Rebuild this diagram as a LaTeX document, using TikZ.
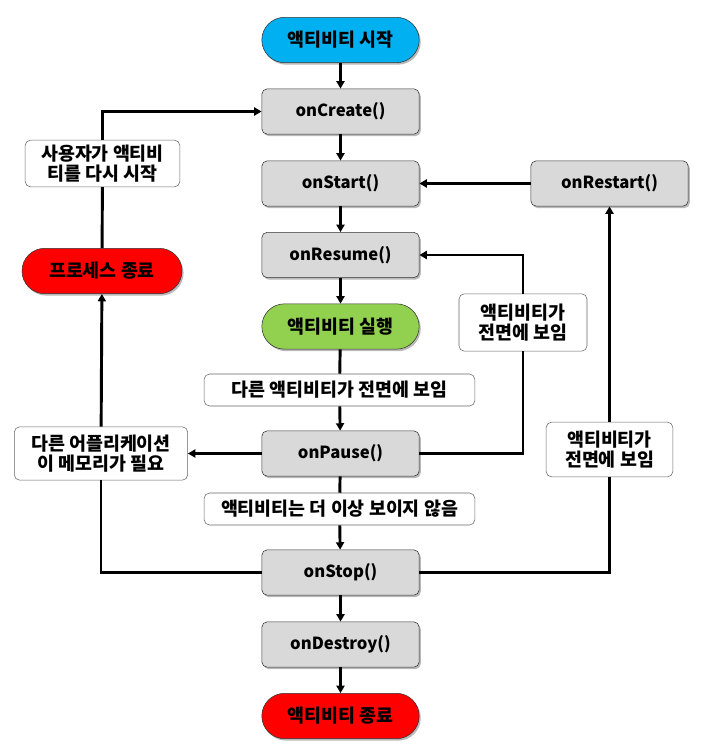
\documentclass[tikz,border=0pt]{standalone}
\usepackage{fontspec}
\setmainfont{Noto Sans CJK KR}
\usepackage{tikz}
\usetikzlibrary{arrows.meta,shadows}
\definecolor{startblue}{HTML}{00B0F0}
\definecolor{rungreen}{HTML}{92D050}
\definecolor{boxgray}{HTML}{D9D9D9}

\begin{document}
\begin{tikzpicture}[x=0.75pt,y=-0.75pt,
	callback/.style={draw=black!80,fill=boxgray,rounded corners=4pt,minimum width=118pt,minimum height=34pt,font=\bfseries\fontsize{12.5}{14}\selectfont,drop shadow={shadow xshift=1.2pt,shadow yshift=-1.5pt,fill=black!55}},
	pill/.style={callback,rounded corners=17pt,font=\bfseries\fontsize{13.8}{15}\selectfont},
	note/.style={draw=black!60,fill=white,rounded corners=4pt,align=center,inner sep=2pt,font=\bfseries\fontsize{13.8}{15.5}\selectfont},
	flow/.style={line width=2.2pt,-{Triangle[length=5.5pt,width=6pt]}},
	wire/.style={line width=2.2pt}]
	\useasboundingbox (0,0) rectangle (720,756);
	% main chain
	\node[pill,fill=startblue] (start) at (340.5,40) {액티비티 시작};
	\node[callback] (create) at (340.5,111.5) {onCreate()};
	\node[callback] (startcb) at (340.5,183.5) {onStart()};
	\node[callback] (resume) at (340.5,255) {onResume()};
	\node[pill,fill=rungreen] (running) at (340.5,326.5) {액티비티 실행};
	\node[callback] (pause) at (340.5,453.5) {onPause()};
	\node[callback] (stop) at (340.5,572.5) {onStop()};
	\node[callback] (destroy) at (340.5,644.5) {onDestroy()};
	\node[pill,fill=red] (finish) at (340.5,716) {액티비티 종료};
	\node[callback] (restart) at (609.5,183.5) {onRestart()};
	\node[pill,fill=red,minimum width=120pt] (kill) at (102,271) {프로세스 종료};
	% notes
	\node[note,minimum width=203pt,minimum height=24pt] (other) at (339.5,390) {다른 액티비티가 전면에 보임};
	\node[note,minimum width=203pt,minimum height=24pt] (hidden) at (339.5,509) {액티비티는 더 이상 보이지 않음};
	\node[note,minimum width=116pt,minimum height=35pt] (userback) at (102.5,163.5) {사용자가 액티비\\티를 다시 시작};
	\node[note,minimum width=130pt,minimum height=40pt] (memory) at (101,453.5) {다른 어플리케이션\\이 메모리가 필요};
	\node[note,minimum width=96pt,minimum height=43pt] (front1) at (523,322.5) {액티비티가\\전면에 보임};
	\node[note,minimum width=95pt,minimum height=41pt] (front2) at (609.5,449.5) {액티비티가\\전면에 보임};

	\draw[flow] (start) -- (create);
	\draw[flow] (create) -- (startcb);
	\draw[flow] (startcb) -- (resume);
	\draw[flow] (resume) -- (running);
	\draw[wire] (running) -- (other);
	\draw[flow] (other) -- (pause);
	\draw[wire] (pause) -- (hidden);
	\draw[flow] (hidden) -- (stop);
	\draw[flow] (stop) -- (destroy);
	\draw[flow] (destroy) -- (finish);
	\draw[flow] (restart) -- (startcb);
	\draw[wire] (stop.east) -| (front2.south);
	\draw[flow] (front2) -- (restart);
	\draw[wire] (pause.east) -| (front1.south);
	\draw[flow] (front1.north) |- (resume.east);
	\draw[flow] (pause) -- (memory);
	\draw[wire] (stop.west) -| (memory.south);
	\draw[flow] (memory) -- (kill);
	\draw[wire] (kill) -- (userback);
	\draw[flow] (userback.north) |- (create.west);
\end{tikzpicture}
\end{document}
